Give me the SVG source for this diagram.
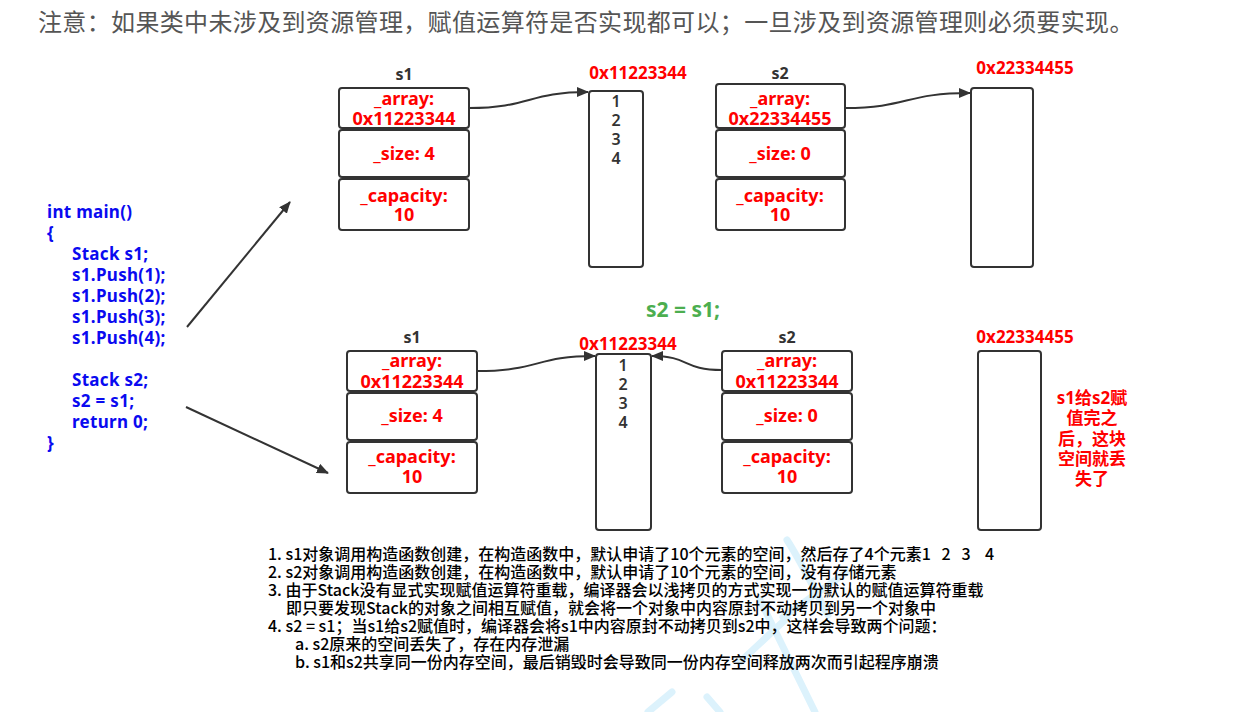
<svg xmlns="http://www.w3.org/2000/svg" width="1241" height="712" viewBox="0 0 1241 712">
<defs>
<marker id="ah" viewBox="0 0 12 10" refX="11" refY="5" markerWidth="12" markerHeight="10" markerUnits="userSpaceOnUse" orient="auto">
<path d="M0,0 L12,5 L0,10 Z" fill="#333"/>
</marker>
<style>
.box{fill:#fff;stroke:#333;stroke-width:2}
.red{fill:#ff0000;font-family:"Noto Sans","Noto Sans CJK SC",sans-serif;font-weight:bold;font-size:18px;text-anchor:middle}
.addr{fill:#ff0000;font-family:"Noto Sans",sans-serif;font-weight:bold;font-size:17px;text-anchor:middle}
.lbl{fill:#333;font-family:"Noto Sans",sans-serif;font-weight:bold;font-size:16px;text-anchor:middle}
.num{fill:#333;font-family:"Noto Sans",sans-serif;font-weight:600;font-size:16px;text-anchor:middle}
.code{fill:#0a0af0;font-family:"Noto Sans",sans-serif;font-weight:bold;font-size:17px;letter-spacing:0.3px}
.note{fill:#000;font-family:"Noto Sans CJK SC",sans-serif;font-weight:500;font-size:16px;white-space:pre}
.conn{fill:none;stroke:#333;stroke-width:2}
.wm{fill:none;stroke:#dcf2fc;stroke-width:7;stroke-linecap:round}
</style>
</defs>
<rect width="1241" height="712" fill="#fff"/>

<g id="watermark">
<path class="wm" d="M787,540 C800,560 815,590 828,615"/>
<path class="wm" d="M783,617 L847,572"/>
<path class="wm" d="M760,600 L815,712"/>
<path class="wm" d="M648,712 L672,692"/>
<path class="wm" d="M707,697 L720,712"/>
<path class="wm" d="M740,662 L787,618"/>
</g>

<text id="header" x="38" y="31" fill="#555" font-family="'Noto Sans CJK SC',sans-serif" font-size="24" letter-spacing="0.35">注意：如果类中未涉及到资源管理，赋值运算符是否实现都可以；一旦涉及到资源管理则必须要实现。</text>

<g id="code">
<text class="code" x="47" y="218">int main()</text>
<text class="code" x="47" y="239">{</text>
<text class="code" x="72" y="260">Stack s1;</text>
<text class="code" x="72" y="281">s1.Push(1);</text>
<text class="code" x="72" y="302">s1.Push(2);</text>
<text class="code" x="72" y="323">s1.Push(3);</text>
<text class="code" x="72" y="344">s1.Push(4);</text>
<text class="code" x="72" y="386">Stack s2;</text>
<text class="code" x="72" y="407">s2 = s1;</text>
<text class="code" x="72" y="428">return 0;</text>
<text class="code" x="47" y="449">}</text>
</g>

<g id="top-s1">
<text class="lbl" x="404" y="80">s1</text>
<rect class="box" x="339" y="88" width="130" height="40" rx="3"/>
<rect class="box" x="339" y="130" width="130" height="47" rx="3"/>
<rect class="box" x="339" y="179" width="130" height="51" rx="3"/>
<text class="red" x="404" y="105">_array:</text>
<text class="red" x="404" y="125">0x11223344</text>
<text class="red" x="404" y="160">_size: 4</text>
<text class="red" x="404" y="202">_capacity:</text>
<text class="red" x="404" y="221">10</text>
</g>

<g id="top-mem1">
<text class="addr" x="638" y="79">0x11223344</text>
<rect class="box" x="589" y="91" width="54" height="176" rx="3"/>
<text class="num" x="616" y="107">1</text>
<text class="num" x="616" y="126">2</text>
<text class="num" x="616" y="145">3</text>
<text class="num" x="616" y="164">4</text>
</g>

<g id="top-s2">
<text class="lbl" x="780" y="79">s2</text>
<rect class="box" x="716" y="84" width="129" height="44" rx="3"/>
<rect class="box" x="716" y="130" width="129" height="47" rx="3"/>
<rect class="box" x="716" y="179" width="129" height="51" rx="3"/>
<text class="red" x="780" y="105">_array:</text>
<text class="red" x="780" y="125">0x22334455</text>
<text class="red" x="780" y="160">_size: 0</text>
<text class="red" x="780" y="202">_capacity:</text>
<text class="red" x="780" y="221">10</text>
</g>

<g id="top-mem2">
<text class="addr" x="1025" y="74">0x22334455</text>
<rect class="box" x="971" y="88" width="62" height="179" rx="3"/>
</g>

<text id="assign" x="683" y="317" fill="#4cae4f" font-family="'Noto Sans',sans-serif" font-weight="bold" font-size="21" text-anchor="middle">s2 = s1;</text>

<g id="bot-s1">
<text class="lbl" x="412" y="343">s1</text>
<rect class="box" x="347" y="351" width="130" height="40" rx="3"/>
<rect class="box" x="347" y="393" width="130" height="47" rx="3"/>
<rect class="box" x="347" y="442" width="130" height="51" rx="3"/>
<text class="red" x="412" y="367">_array:</text>
<text class="red" x="412" y="388">0x11223344</text>
<text class="red" x="412" y="422">_size: 4</text>
<text class="red" x="412" y="463">_capacity:</text>
<text class="red" x="412" y="483">10</text>
</g>

<g id="bot-mem1">
<text class="addr" x="628" y="350">0x11223344</text>
<rect class="box" x="596" y="354" width="55" height="176" rx="3"/>
<text class="num" x="623" y="371">1</text>
<text class="num" x="623" y="390">2</text>
<text class="num" x="623" y="409">3</text>
<text class="num" x="623" y="428">4</text>
</g>

<g id="bot-s2">
<text class="lbl" x="787" y="343">s2</text>
<rect class="box" x="722" y="351" width="130" height="40" rx="3"/>
<rect class="box" x="722" y="393" width="130" height="47" rx="3"/>
<rect class="box" x="722" y="442" width="130" height="51" rx="3"/>
<text class="red" x="787" y="367">_array:</text>
<text class="red" x="787" y="388">0x11223344</text>
<text class="red" x="787" y="422">_size: 0</text>
<text class="red" x="787" y="463">_capacity:</text>
<text class="red" x="787" y="483">10</text>
</g>

<g id="bot-mem2">
<text class="addr" x="1025" y="343">0x22334455</text>
<rect class="box" x="978" y="351" width="63" height="179" rx="3"/>
</g>

<g id="lost-note" fill="#ff0000" font-family="'Noto Sans','Noto Sans CJK SC',sans-serif" font-weight="bold" font-size="17" text-anchor="middle">
<text x="1092" y="404">s1给s2赋</text>
<text x="1092" y="424">值完之</text>
<text x="1092" y="445">后，这块</text>
<text x="1092" y="465">空间就丢</text>
<text x="1092" y="485">失了</text>
</g>

<g id="connectors">
<path class="conn" d="M469,108 C530,108 528,92 588,92" marker-end="url(#ah)"/>
<path class="conn" d="M845,108 C908,108 905,93 970,93" marker-end="url(#ah)"/>
<path class="conn" d="M477,371 C540,371 535,356 595,356" marker-end="url(#ah)"/>
<path class="conn" d="M722,370 C682,370 690,356 652,356" marker-end="url(#ah)"/>
<line class="conn" x1="187" y1="327" x2="290" y2="202" marker-end="url(#ah)"/>
<line class="conn" x1="186" y1="407" x2="328" y2="473" marker-end="url(#ah)"/>
</g>

<g id="notes">
<text class="note" x="268" y="560">1. s1对象调用构造函数创建，在构造函数中，默认申请了10个元素的空间，然后存了4个元素1   2   3    4</text>
<text class="note" x="268" y="578">2. s2对象调用构造函数创建，在构造函数中，默认申请了10个元素的空间，没有存储元素</text>
<text class="note" x="268" y="596">3. 由于Stack没有显式实现赋值运算符重载，编译器会以浅拷贝的方式实现一份默认的赋值运算符重载</text>
<text class="note" x="286" y="614">即只要发现Stack的对象之间相互赋值，就会将一个对象中内容原封不动拷贝到另一个对象中</text>
<text class="note" x="268" y="632">4. s2 = s1；当s1给s2赋值时，编译器会将s1中内容原封不动拷贝到s2中，这样会导致两个问题：</text>
<text class="note" x="295" y="650">a. s2原来的空间丢失了，存在内存泄漏</text>
<text class="note" x="295" y="668">b. s1和s2共享同一份内存空间，最后销毁时会导致同一份内存空间释放两次而引起程序崩溃</text>
</g>
</svg>
